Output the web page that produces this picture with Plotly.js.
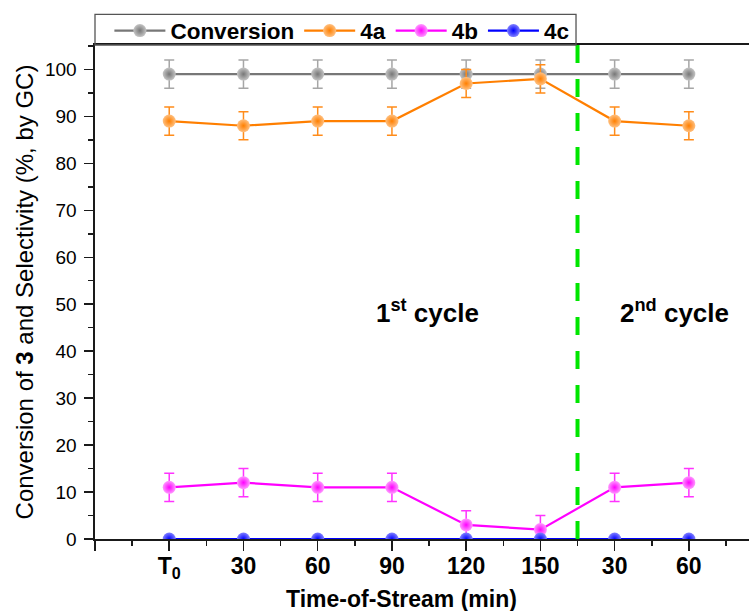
<!DOCTYPE html>
<html>
<head>
<meta charset="utf-8">
<script src="https://cdn.plot.ly/plotly-3.0.1.min.js"></script>
<style>
html,body{margin:0;padding:0;background:#fff;}
#chart{width:749px;height:611px;}
</style>
</head>
<body>
<div id="chart"></div>
<script>
// ---- data ----
const categories = ["T<sub>0</sub>", "30", "60", "90", "120", "150", "30", "60"];
const positions = [0, 1, 2, 3, 4, 5, 6, 7];
const conversion = [99, 99, 99, 99, 99, 99, 99, 99];
const conversionErr = [3, 3, 3, 3, 3, 3, 3, 3];
const sel4a = [89, 88, 89, 89, 97, 98, 89, 88];
const sel4aErr = [3, 3, 3, 3, 3, 3, 3, 3];
const sel4b = [11, 12, 11, 11, 3, 2, 11, 12];
const sel4bErr = [3, 3, 3, 3, 3, 3, 3, 3];
const sel4c = [0, 0, 0, 0, 0, 0, 0, 0];
const cycleBoundary = 5.5;
const cycleLabels = ["1<sup>st</sup> cycle", "2<sup>nd</sup> cycle"];
const cycleLabelX = [3.48, 6.81];
const cycleLabelY = [48.5, 48.5];
const xTitle = "Time-of-Stream (min)";
const yTitle = "Conversion of <b>3</b> and Selectivity (%, by GC)";

const FONT = "Arial, 'Liberation Sans', sans-serif";

function series(name, y, err, color, tint, errColor) {
  const t = {
    x: positions, y: y, name: name, type: 'scatter', mode: 'lines+markers',
    line: {color: color, width: 2.2},
    marker: {size: 13, color: tint, line: {width: 0},
             gradient: {type: 'radial', color: color}},
  };
  if (err) {
    t.error_y = {type: 'data', array: err, visible: true, color: errColor,
                 thickness: 1.5, width: 5};
  }
  return t;
}

const traces = [
  series('Conversion', conversion, conversionErr, '#777777', '#c4c4c4', '#a6a6a6'),
  series('4a', sel4a, sel4aErr, '#ff7f00', '#ffc080', '#ff8c1a'),
  series('4b', sel4b, sel4bErr, '#ff00ff', '#ff99ff', '#ff33ff'),
  series('4c', sel4c, null, '#0000ff', '#8080ff', '#0000ff'),
];

const tickvals = [-1].concat(positions).concat([8]);
const ticktext = [""].concat(categories).concat([""]);

const layout = {
  width: 749, height: 611,
  margin: {l: 95, r: 0, t: 45, b: 72, pad: 0},
  paper_bgcolor: '#ffffff', plot_bgcolor: '#ffffff',
  font: {family: FONT, color: '#000'},
  showlegend: true,
  legend: {
    orientation: 'h', x: 0.022, y: 0.985, xanchor: 'left', yanchor: 'bottom',
    borderwidth: 0, bgcolor: 'rgba(0,0,0,0)',
    font: {family: FONT, size: 22.5, color: '#000', weight: 'bold'},
    itemwidth: 51, tracegroupgap: 0
  },
  xaxis: {
    range: [-1, 7.81], showgrid: false, zeroline: false,
    showline: true, linecolor: '#1a1a1a', linewidth: 1.6, mirror: true,
    ticks: 'outside', ticklen: 10, tickwidth: 1.5, tickcolor: '#1a1a1a',
    tickmode: 'array', tickvals: tickvals, ticktext: ticktext,
    ticklabelstandoff: -4,
    tickfont: {family: FONT, size: 23, color: '#000', weight: 'bold'},
    minor: {tickmode: 'linear', tick0: -0.5, dtick: 1, ticks: 'outside', ticklen: 5, tickwidth: 1.5, tickcolor: '#1a1a1a'},
  },
  yaxis: {
    range: [0, 105.2], showgrid: false, zeroline: false,
    showline: true, linecolor: '#1a1a1a', linewidth: 1.6, mirror: false,
    ticks: 'outside', ticklen: 9, tickwidth: 1.5, tickcolor: '#1a1a1a',
    tick0: 0, dtick: 10, ticklabelstandoff: 4,
    tickfont: {family: FONT, size: 19, color: '#000'},
    minor: {tick0: 5, dtick: 10, ticks: 'outside', ticklen: 5, tickwidth: 1.5, tickcolor: '#1a1a1a'},
    title: {text: yTitle, font: {family: FONT, size: 24, color: '#000'}, standoff: 4}
  },
  shapes: [
    {type: 'line', xref: 'x', yref: 'paper', x0: cycleBoundary, x1: cycleBoundary, y0: 0, y1: 1,
     line: {color: '#00e600', width: 4, dash: '18px,16px'}},
    {type: 'rect', xref: 'paper', yref: 'paper', x0: 0, x1: 0.7355, y0: 1, y1: 1.0621,
     line: {color: '#555', width: 1.3}, fillcolor: 'rgba(0,0,0,0)'}
  ],
  annotations: cycleLabels.map((t, i) => ({
    x: cycleLabelX[i], y: cycleLabelY[i], xref: 'x', yref: 'y', text: t, showarrow: false,
    font: {family: FONT, size: 26, color: '#000', weight: 'bold'}
  })).concat([{
    x: 0.468, y: -0.1215, xref: 'paper', yref: 'paper', yanchor: 'middle', xanchor: 'center',
    text: xTitle, showarrow: false,
    font: {family: FONT, size: 23, color: '#000', weight: 'bold'}
  }])
};

Plotly.newPlot('chart', traces, layout, {displayModeBar: false, staticPlot: true});
</script>
</body>
</html>
